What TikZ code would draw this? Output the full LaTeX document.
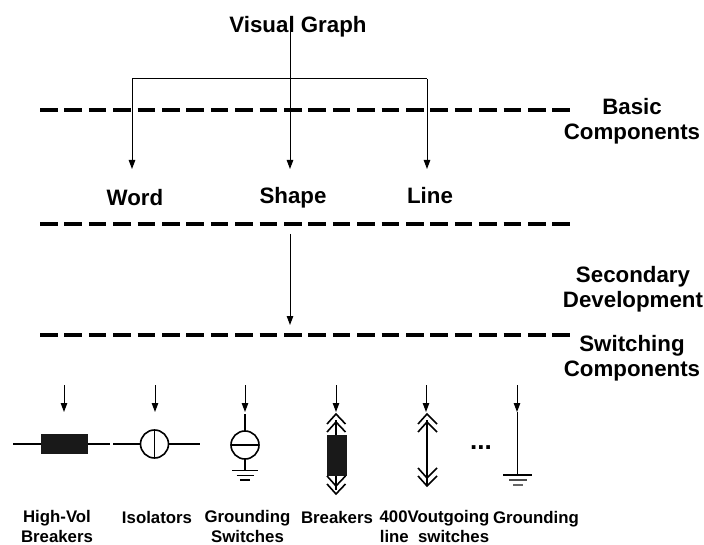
\documentclass[tikz,border=0pt]{standalone}
\usepackage{fontspec}
\setmainfont{Liberation Sans}
\usetikzlibrary{arrows.meta}
\tikzset{
	link/.style={line width=1pt,-{Triangle[length=9pt,width=6.5pt]}},
	wire/.style={line width=1.6pt},
	sep/.style={line width=3.2pt,dash pattern=on 17.5pt off 6.9pt},
	big/.style={font=\fontsize{22.3}{25}\selectfont\bfseries,align=center,inner sep=0pt},
	small/.style={font=\fontsize{16.8}{20}\selectfont\bfseries,align=center,inner sep=0pt},
}
\begin{document}
\begin{tikzpicture}[x=1pt,y=-1pt]
	\useasboundingbox (0,0) rectangle (704,545);

	% titles
	\node[big] (visual) at (298,27) {Visual Graph};
	\node[big] (word) at (135,198) {Word};
	\node[big] (shape) at (293,197.5) {Shape};
	\node[big] (line) at (430,195.5) {Line};
	\node[big] (basic) at (632,121) {Basic\\Components};
	\node[big] (secondary) at (633,289) {Secondary\\Development};
	\node[big] (switching) at (632,358) {Switching\\Components};

	% separators
	\foreach \y/\yname in {110/a, 224/b, 335/c} {
		\coordinate (sep\yname l) at (40,\y);
		\coordinate (sep\yname r) at (570,\y);
		\draw[sep] (sep\yname l) -- (sep\yname r);
	}

	% top tree
	\coordinate (root) at (290,18);
	\coordinate (fork) at (290,79);
	\coordinate (forkl) at (132,79);
	\coordinate (forkr) at (427,79);
	\coordinate (endl) at (132,169);
	\coordinate (endm) at (290,169);
	\coordinate (endr) at (427,169);
	\draw[line width=1pt] (forkl) -- (forkr);
	\draw[link] (root) -- (endm);
	\draw[link] (forkl) -- (endl);
	\draw[link] (forkr) -- (endr);

	\coordinate (devtop) at (290,234);
	\coordinate (devend) at (290,325);
	\draw[link] (devtop) -- (devend);

	% arrows down to the symbols
	\foreach \x/\xname in {64/a, 155/b, 245/c, 336/d, 426/e, 517/f} {
		\coordinate (in\xname) at (\x,385);
		\coordinate (out\xname) at (\x,412);
		\draw[link] (in\xname) -- (out\xname);
	}

	% high-vol breaker
	\draw[wire] (13,444) -- (110,444);
	\filldraw[fill=black!90,draw=black!90] (41,434.5) rectangle (87,453.5);

	% isolator
	\draw[wire] (113,444) -- (140,444);
	\draw[wire] (168,444) -- (200,444);
	\draw[wire] (154.5,444) circle (14);
	\draw[wire] (154.5,430) -- (154.5,458);

	% grounding switch
	\draw[wire] (245,414) -- (245,431);
	\draw[wire] (245,445) circle (14);
	\draw[wire] (231,445) -- (259,445);
	\draw[wire] (245,459) -- (245,470);
	\draw[wire] (232,470.5) -- (258,470.5);
	\draw[wire] (236.5,475.5) -- (254,475.5);
	\draw[wire] (240,480) -- (250,480);

	% breaker
	\draw[wire] (336,420) -- (336,490);
	\filldraw[fill=black!90,draw=black!90] (327,435) rectangle (346,475);
	\foreach \y in {414, 422}
		\draw[wire] (327,\y+10) -- (336,\y) -- (345.5,\y+10);
	\foreach \y in {486, 494}
		\draw[wire] (327,\y-10) -- (336,\y) -- (345.5,\y-10);

	% outgoing line switch
	\draw[wire] (427,420) -- (427,485);
	\foreach \y in {414, 422}
		\draw[wire] (418,\y+10) -- (427,\y) -- (437,\y+10);
	\foreach \y in {478, 486}
		\draw[wire] (418,\y-10) -- (427,\y) -- (437,\y-10);

	\node[font=\fontsize{26}{30}\selectfont\bfseries] (dots) at (481,448) {...};

	% ground
	\draw[line width=1pt] (517,412) -- (517,475);
	\draw[line width=1.3pt] (503,475) -- (532,475);
	\draw[line width=1.3pt,black!70] (509,480) -- (527,480);
	\draw[line width=1.3pt,black!60] (513,485) -- (523,485);

	% labels
	\node[small] (highvol) at (57,526.5) {High-Vol\\Breakers};
	\node[small] (isolators) at (157,517) {Isolators};
	\node[small] (groundsw) at (247.5,526.5) {Grounding\\Switches};
	\node[small] (breakers) at (337,517) {Breakers};
	\node[small] (outgoing) at (434.5,526.5) {400Voutgoing\\line~~switches};
	\node[small] (grounding) at (536,519) {Grounding};
\end{tikzpicture}
\end{document}
